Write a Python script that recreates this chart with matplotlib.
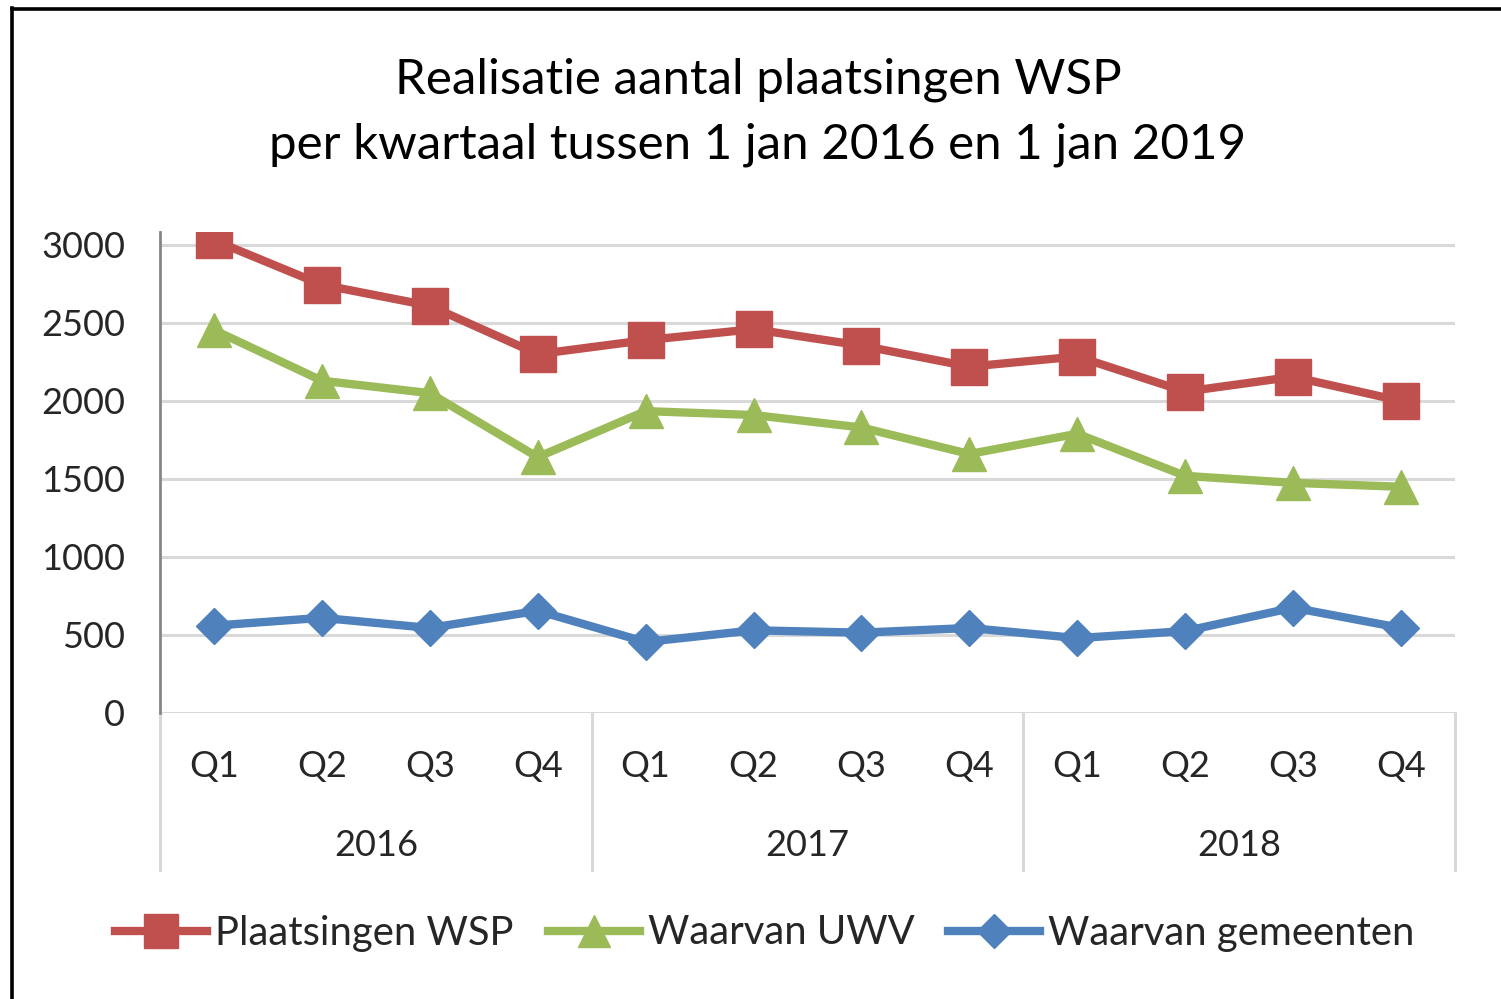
import matplotlib.pyplot as plt
from matplotlib.lines import Line2D
import numpy as np

plt.rcParams['font.family'] = ['Lato', 'DejaVu Sans']

# data
kwartalen = ['Q1', 'Q2', 'Q3', 'Q4'] * 3
jaren = ['2016', '2017', '2018']
plaatsingen_wsp = [3030, 2745, 2610, 2300, 2390, 2460, 2355, 2220, 2285, 2060, 2155, 2000]
waarvan_uwv = [2455, 2130, 2050, 1640, 1935, 1910, 1830, 1660, 1790, 1520, 1475, 1450]
waarvan_gemeenten = [560, 610, 545, 655, 455, 530, 515, 545, 480, 525, 675, 545]

rood = '#C0504D'
groen = '#9BBB59'
blauw = '#4F81BD'
grijs = '#D9D9D9'
tekst = '#262626'

W, H = 1501, 999
fig = plt.figure(figsize=(W / 100, H / 100), dpi=100)

# zwarte kader (links en boven zichtbaar)
fig.add_artist(Line2D([11.5 / W, 11.5 / W], [0, 1 - 8 / H], color='black', lw=2.6,
                      transform=fig.transFigure))
fig.add_artist(Line2D([11.5 / W, 1], [1 - 9 / H, 1 - 9 / H], color='black', lw=2.6,
                      transform=fig.transFigure))

left, right, top, bottom = 160, 1455, 232, 713
ax = fig.add_axes([left / W, 1 - bottom / H, (right - left) / W, (bottom - top) / H])

x = np.arange(len(kwartalen))
ax.plot(x, plaatsingen_wsp, color=rood, lw=6, marker='s', ms=26, zorder=5)
ax.plot(x, waarvan_uwv, color=groen, lw=6, marker='^', ms=25, zorder=4)
ax.plot(x, waarvan_gemeenten, color=blauw, lw=6, marker='D', ms=18, zorder=3)

ax.set_xlim(-0.5, 11.5)
ax.set_ylim(0, 3083)
ax.set_yticks(range(0, 3001, 500))
ax.set_yticklabels([str(v) for v in range(0, 3001, 500)], fontsize=26, color=tekst)
ax.tick_params(axis='y', length=0, pad=25)
ax.set_xticks([])
ax.grid(axis='y', color=grijs, lw=2.2)
ax.set_axisbelow(True)
for s in ['top', 'right', 'bottom']:
    ax.spines[s].set_visible(False)
ax.spines['left'].set_color('#868686')
ax.spines['left'].set_linewidth(2)
ax.spines['left'].set_zorder(6)

# categorie-as met twee niveaus
hpx = bottom - top
tr = ax.get_xaxis_transform()
for xs in [-0.5, 3.5, 7.5, 11.5]:
    ax.add_line(Line2D([xs, xs], [0, -(870 - bottom) / hpx], color=grijs, lw=2.2,
                       transform=tr, clip_on=False))
for i, q in enumerate(kwartalen):
    ax.text(i, -(767 - bottom) / hpx, q, transform=tr, ha='center', va='center',
            fontsize=26, color=tekst)
for j, jaar in enumerate(jaren):
    ax.text(4 * j + 1.5, -(845 - bottom) / hpx, jaar, transform=tr, ha='center',
            va='center', fontsize=26, color=tekst)

fig.text(758 / W, 1 - 112 / H,
         'Realisatie aantal plaatsingen WSP\nper kwartaal tussen 1 jan 2016 en 1 jan 2019',
         ha='center', va='center', fontsize=35.5, color='black', linespacing=1.56)

handles = [
    Line2D([], [], color=rood, lw=6, marker='s', ms=24),
    Line2D([], [], color=groen, lw=6, marker='^', ms=23),
    Line2D([], [], color=blauw, lw=6, marker='D', ms=17),
]
fig.legend(handles, ['Plaatsingen WSP', 'Waarvan UWV', 'Waarvan gemeenten'],
           loc='center', bbox_to_anchor=(765 / W, 1 - 933 / H), ncol=3, frameon=False,
           fontsize=28.8, handlelength=2.3, handletextpad=0.2, columnspacing=0.85,
           labelcolor=tekst)

fig.savefig('out.png', dpi=100, facecolor='white')
